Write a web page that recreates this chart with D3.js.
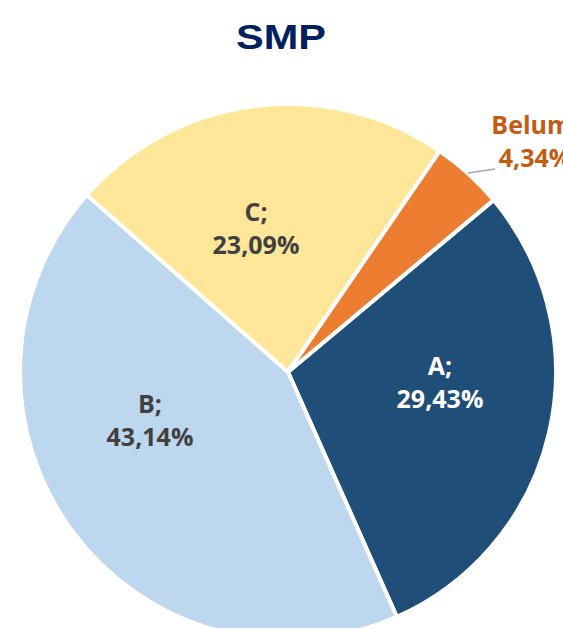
<!DOCTYPE html>
<html>
<head>
<meta charset="utf-8">
<script src="https://cdn.jsdelivr.net/npm/d3@7"></script>
<style>
  body { margin: 0; background: #fff; overflow: hidden; }
</style>
</head>
<body>
<svg id="chart" width="563" height="628"></svg>
<script>
// slice data, in drawing order (clockwise from the A slice)
const categories = ["A", "B", "C", "Belum"];
const values = [29.43, 43.14, 23.09, 4.34];
const labelText = ["29,43%", "43,14%", "23,09%", "4,34%"];
const colors = ["#1F4E79", "#BDD7EE", "#FFE699", "#ED7D31"];
const textColors = ["#FFFFFF", "#404040", "#404040", "#C55A11"];

const svg = d3.select("#chart");
const cx = 288, cy = 372, r = 268;

svg.append("text")
    .attr("x", 281)
    .attr("y", 49)
    .attr("text-anchor", "middle")
    .attr("font-family", "Liberation Sans, Arial, sans-serif")
    .attr("font-weight", "bold")
    .attr("font-size", 35)
    .attr("textLength", 90)
    .attr("lengthAdjust", "spacingAndGlyphs")
    .attr("fill", "#002060")
    .text("SMP");

const startDeg = 50.1;
const pie = d3.pie()
    .sort(null)
    .startAngle(startDeg * Math.PI / 180)
    .endAngle((startDeg + 360) * Math.PI / 180);

const arcs = pie(values);
const arc = d3.arc().innerRadius(0).outerRadius(r);

const g = svg.append("g").attr("transform", `translate(${cx},${cy})`);

g.selectAll("path.slice")
    .data(arcs)
    .join("path")
    .attr("class", "slice")
    .attr("d", arc)
    .attr("fill", (d, i) => colors[i])
    .attr("stroke", "#fff")
    .attr("stroke-width", 4)
    .attr("stroke-linejoin", "round");

// label anchor (first baseline) relative to the pie centre
const labelPos = [[152, 3], [-138, 41], [-32, -151], [247, -238]];

const labels = g.selectAll("text.lbl")
    .data(arcs)
    .join("text")
    .attr("class", "lbl")
    .attr("text-anchor", "middle")
    .attr("font-family", "Open Sans, sans-serif")
    .attr("font-weight", "bold")
    .attr("font-size", 25)
    .attr("fill", (d, i) => textColors[i])
    .attr("transform", (d, i) => `translate(${labelPos[i][0]},${labelPos[i][1]})`);

labels.append("tspan")
    .attr("x", 0)
    .attr("y", 0)
    .text((d, i) => categories[i] + ";");
labels.append("tspan")
    .attr("x", 0)
    .attr("y", 33)
    .text((d, i) => labelText[i]);

// leader line for the small slice
g.append("path")
    .attr("d", d3.line()([[180, -199], [207, -203]]))
    .attr("fill", "none")
    .attr("stroke", "#A6A6A6")
    .attr("stroke-width", 1.5);
</script>
</body>
</html>
